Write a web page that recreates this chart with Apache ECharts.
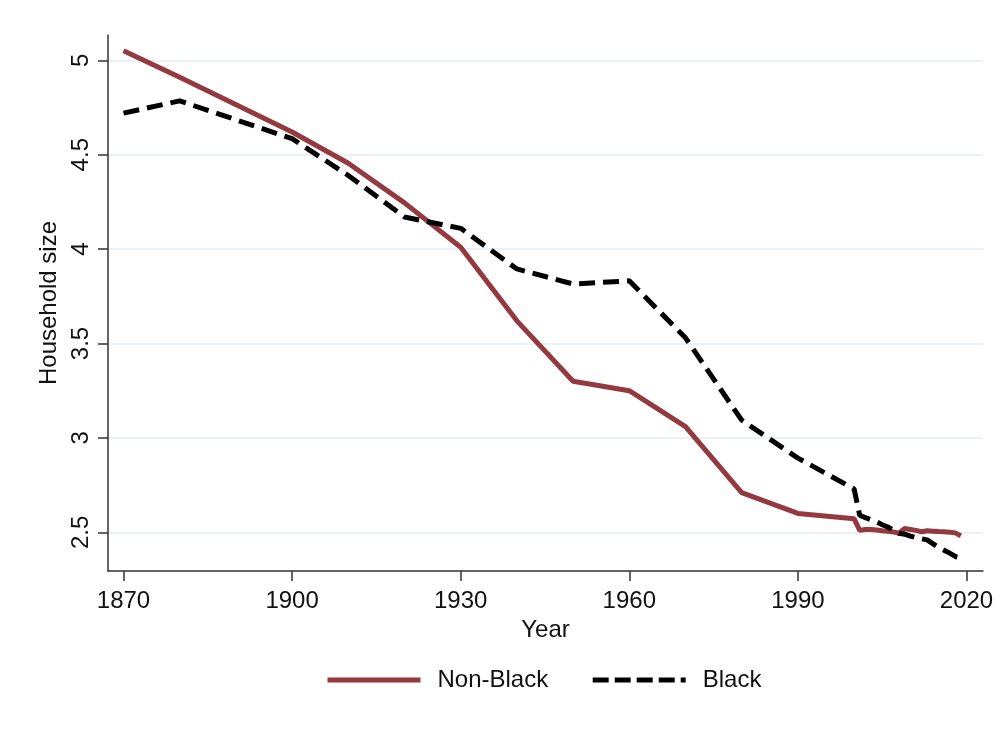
<!DOCTYPE html>
<html>
<head>
<meta charset="utf-8">
<script src="https://cdn.jsdelivr.net/npm/echarts@6/dist/echarts.min.js"></script>
<style>
  html, body { margin: 0; padding: 0; background: #ffffff; }
  #chart { width: 1002px; height: 730px; }
</style>
</head>
<body>
<div id="chart"></div>
<script>
var years = [1870, 1880, 1900, 1910, 1920, 1930, 1940, 1950, 1960, 1970, 1980, 1990, 2000,
  2001, 2002, 2003, 2004, 2005, 2006, 2007, 2008, 2009, 2010,
  2011, 2012, 2013, 2014, 2015, 2016, 2017, 2018, 2019];
var nonBlack = [5.05, 4.91, 4.62, 4.455, 4.245, 4.01, 3.62, 3.30, 3.25, 3.06, 2.71, 2.60, 2.572,
  2.51, 2.515, 2.515, 2.512, 2.508, 2.505, 2.502, 2.495, 2.52, 2.515,
  2.51, 2.503, 2.508, 2.506, 2.504, 2.503, 2.50, 2.497, 2.482];
var black = [4.72, 4.785, 4.585, 4.39, 4.17, 4.11, 3.895, 3.815, 3.832, 3.53, 3.094, 2.893, 2.73,
  2.59, 2.578, 2.567, 2.555, 2.54, 2.528, 2.512, 2.495, 2.49, 2.48,
  2.472, 2.466, 2.46, 2.44, 2.42, 2.405, 2.39, 2.372, 2.365];
var xTicks = [1870, 1900, 1930, 1960, 1990, 2020];
var yTicks = [2.5, 3, 3.5, 4, 4.5, 5];

function pairs(vals) {
  return years.map(function (y, i) { return [y, vals[i]]; });
}

var chart = echarts.init(document.getElementById('chart'), null, { renderer: 'canvas' });
var font = "'Liberation Sans', Arial, sans-serif";
var axisColor = '#333333';
var red = '#93393f';

var option = {
  backgroundColor: '#ffffff',
  animation: false,
  grid: { left: 108, right: 19, top: 35, bottom: 159 },
  xAxis: {
    type: 'value',
    min: 1867.24,
    max: 2022.94,
    name: 'Year',
    nameLocation: 'middle',
    nameGap: 44,
    nameTextStyle: { fontFamily: font, fontSize: 24, color: '#111' },
    axisLine: { show: true, lineStyle: { color: axisColor, width: 1.5 } },
    axisTick: { show: true, length: 10, customValues: xTicks, lineStyle: { color: axisColor, width: 1.5 } },
    axisLabel: {
      customValues: xTicks, margin: 18, fontFamily: font, fontSize: 24, color: '#111',
      formatter: function (v) { return String(v); }
    },
    splitLine: { show: false }
  },
  yAxis: {
    type: 'value',
    min: 2.295,
    max: 5.134,
    name: 'Household size',
    nameLocation: 'middle',
    nameRotate: 90,
    nameGap: 44,
    nameTextStyle: { fontFamily: font, fontSize: 24, color: '#111' },
    axisLine: { show: true, lineStyle: { color: axisColor, width: 1.5 } },
    axisTick: { show: true, length: 10, customValues: yTicks, lineStyle: { color: axisColor, width: 1.5 } },
    axisLabel: {
      customValues: yTicks, rotate: 90, margin: 15, fontFamily: font, fontSize: 24, color: '#111',
      formatter: function (v) { return String(v); }
    },
    splitLine: { show: true, lineStyle: { color: '#e4edf0', width: 1.5 } }
  },
  legend: {
    left: 325,
    top: 668,
    padding: 0,
    itemWidth: 93,
    itemHeight: 14,
    itemGap: 42,
    itemStyle: { opacity: 0 },
    textStyle: { fontFamily: font, fontSize: 24, color: '#111', padding: [0, 0, 0, 12] },
    data: [
      { name: 'Non-Black', lineStyle: { color: red, width: 5, type: 'solid' } },
      { name: 'Black', lineStyle: { color: '#000000', width: 5, type: [16, 6] } }
    ]
  },
  series: [{
    name: 'Non-Black',
    type: 'line',
    symbol: 'none',
    data: pairs(nonBlack),
    lineStyle: { color: red, width: 5 },
    itemStyle: { color: red }
  }, {
    name: 'Black',
    type: 'line',
    symbol: 'none',
    data: pairs(black),
    lineStyle: { color: '#000000', width: 5, type: [16, 8], cap: 'butt' },
    itemStyle: { color: '#000000' }
  }]
};

chart.setOption(option);
</script>
</body>
</html>
